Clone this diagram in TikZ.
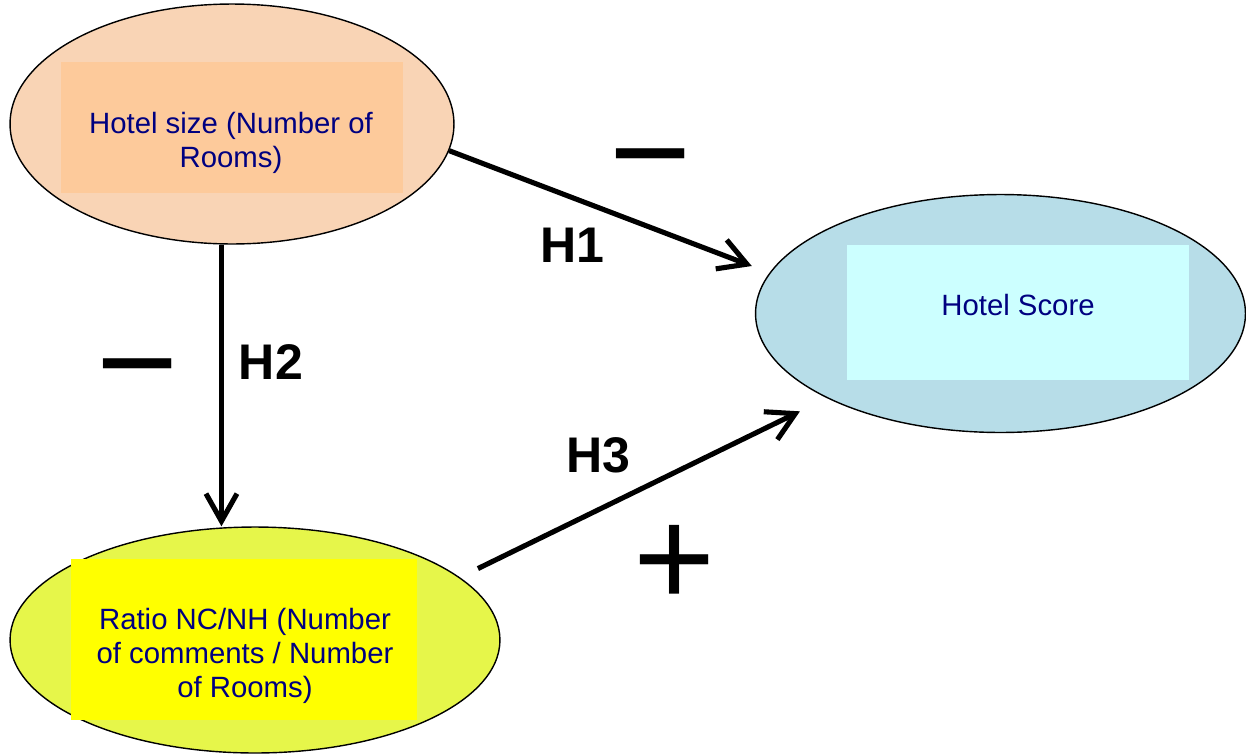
\documentclass[tikz,border=0pt]{standalone}
\usepackage{fontspec}
\setmainfont{Liberation Sans}
\usetikzlibrary{shapes.geometric,arrows.meta}
\definecolor{peach}{HTML}{F9D4B5}
\definecolor{peachbox}{HTML}{FDCA9B}
\definecolor{skyblue}{HTML}{B7DDE8}
\definecolor{skybox}{HTML}{CCFFFF}
\definecolor{lime}{HTML}{E6F64A}
\definecolor{limebox}{HTML}{FFFF00}
\definecolor{navy}{HTML}{000080}
\tikzset{
  var/.style={ellipse,draw=black,line width=0.8pt,inner sep=0pt},
  varbox/.style={rectangle,inner sep=0pt},
  vartext/.style={text=navy,align=center,font=\fontsize{16.7}{19.3}\selectfont},
  hyp/.style={font=\fontsize{28.5}{30}\selectfont\bfseries},
  sign/.style={font=\fontsize{80}{90}\selectfont,inner sep=0pt,anchor=north},
  link/.style={line width=2.9pt,-{Straight Barb[length=0.55cm,width=0.62cm]}}
}
\begin{document}
\begin{tikzpicture}[x=0.02cm,y=-0.02cm]
\useasboundingbox (0,0) rectangle (1246,754);

\node[var,fill=peach,minimum width=8.88cm,minimum height=4.8cm] (size) at (232,124) {};
\node[varbox,fill=peachbox,minimum width=6.84cm,minimum height=2.62cm] (sizebox) at (232,127.5) {};
\node[vartext] (sizetext) at (231,143) {Hotel size (Number of\\Rooms)};

\node[var,fill=skyblue,minimum width=9.8cm,minimum height=4.76cm] (score) at (1000.5,313.5) {};
\node[varbox,fill=skybox,minimum width=6.84cm,minimum height=2.7cm] (scorebox) at (1018,312.5) {};
\node[vartext] (scoretext) at (1018,305) {Hotel Score};

\node[var,fill=lime,minimum width=9.8cm,minimum height=4.52cm] (ratio) at (255,640) {};
\node[varbox,fill=limebox,minimum width=6.92cm,minimum height=3.22cm] (ratiobox) at (244,639.5) {};
\node[vartext] (ratiotext) at (245,656) {Ratio NC/NH (Number\\of comments / Number\\of Rooms)};

\draw[link,shorten >=0.38cm] (size.-7) -- (score.170);
\draw[link] (size.-95) -- (size.-95 |- ratio.north);
\draw[link,shorten <=0.4cm,shorten >=0.6cm] (ratio.17) -- (score.206);

\node[hyp] (h1) at (572,245) {H1};
\node[hyp] (h2) at (271,362) {H2};
\node[hyp] (h3) at (598,455) {H3};

\node[sign] (minus1) at (651,148) {−};
\node[sign] (minus2) at (138,358) {−};
\node[sign] (plus) at (675,525) {+};

\end{tikzpicture}
\end{document}
